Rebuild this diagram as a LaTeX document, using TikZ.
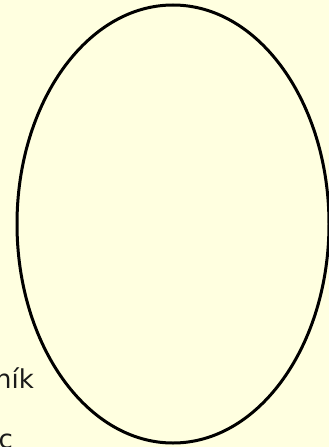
\documentclass[tikz,border=0pt]{standalone}
\usepackage{fontspec}
\setmainfont{DejaVu Sans}
\usetikzlibrary{shapes.geometric}
\definecolor{bg}{HTML}{FFFFE0}
\definecolor{txt}{HTML}{1A1A1A}
\tikzset{lbl/.style={inner sep=0pt, outer sep=0pt, font=\fontsize{26}{30}\selectfont, text=txt}}
\begin{document}
\begin{tikzpicture}[x=1pt,y=-1pt]
\useasboundingbox (0,0) rectangle (329,447);
\clip (0,0) rectangle (329,447);
\fill[bg] (0,0) rectangle (329,447);
\node[draw, line width=3pt, ellipse, minimum width=312pt, minimum height=438pt, inner sep=0pt] (oval) at (173,224) {};
\node[lbl, anchor=base east] (t1) at (34,388) {ník};
\node[lbl, anchor=base west] (t2) at (-1.5,448) {c};
\end{tikzpicture}
\end{document}
